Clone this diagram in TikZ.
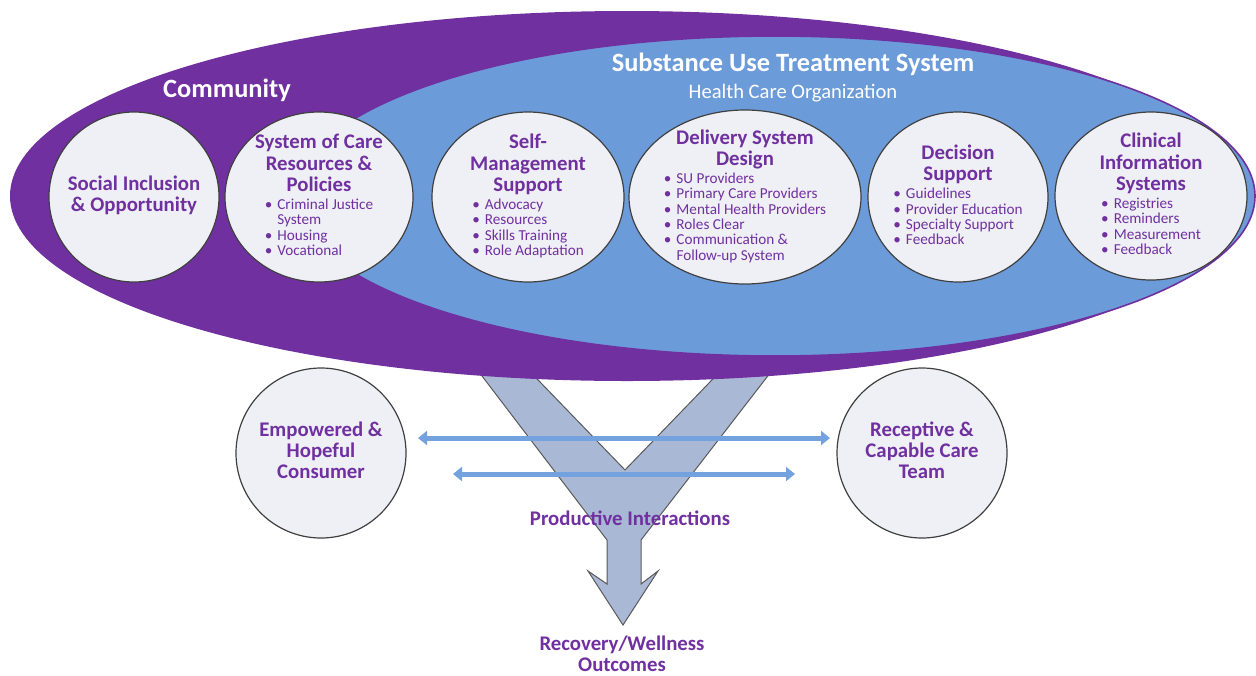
\documentclass[tikz,border=0pt]{standalone}
\usepackage{fontspec}
\setmainfont{Carlito}
\usetikzlibrary{shapes.geometric,arrows.meta}
\definecolor{cmpurple}{HTML}{7030A0}
\definecolor{cmblue}{HTML}{6C9BD9}
\definecolor{partfill}{HTML}{EEF0F5}
\definecolor{yfill}{HTML}{A9B9D5}
\definecolor{linkblue}{HTML}{74A2DE}
\newcommand{\ttl}[1]{{\fontsize{10.4}{10.6}\selectfont\bfseries\begin{tabular}[b]{@{}c@{}}#1\end{tabular}}}
\newcommand{\lst}[1]{{\fontsize{7.6}{7.7}\selectfont\begin{tabular}[t]{@{}l@{\hspace{2.5pt}}l@{}}#1\end{tabular}}}
\newcommand{\itm}{\textbullet &}
\tikzset{%
  part/.style = {shape=ellipse, draw=black!75, line width=0.6pt,
    fill=partfill, inner sep=0pt},
  parttext/.style = {text=cmpurple, align=center, inner sep=0pt,
    font=\fontsize{7.6}{9}\selectfont},
  banner/.style = {text=white, inner sep=0pt,
    font=\fontsize{13.2}{15}\selectfont\bfseries},
  link/.style = {draw=linkblue, line width=2.5pt,
    {Triangle[length=4.5pt,width=7pt]}-{Triangle[length=4.5pt,width=7pt]}}
}

\begin{document}
\begin{tikzpicture}[x=0.5pt, y=-0.5pt]
\useasboundingbox (0,0) rectangle (1256,675);

% productive interactions arrow
\draw[draw=black!65, line width=0.5pt, fill=yfill]
  (466,355) -- (607,540) -- (607,584) -- (588,571) -- (623,625)
  -- (658,571) -- (641,584) -- (641,540) -- (784,355) -- (736,355)
  -- (625,470) -- (514,355) -- cycle;

% community and treatment system
\fill[cmpurple] (627,196) ellipse [x radius=617, y radius=185];
\filldraw[fill=cmblue, draw=cmpurple, line width=0.8pt]
  (775,196) ellipse [x radius=480, y radius=160];

\node[banner] (community) at (227,90) {Community};
\node[banner] (sut) at (793,64) {Substance Use Treatment System};
\node[text=white, inner sep=0pt, font=\fontsize{10.3}{12}\selectfont]
  (hco) at (793,93) {Health Care Organization};

\node[part, minimum width=85pt, minimum height=85pt] (social) at (134,197) {};
\node[part, minimum width=94pt, minimum height=85pt] (soc) at (319,197) {};
\node[part, minimum width=96pt, minimum height=85pt] (self) at (528,197) {};
\node[part, minimum width=116pt, minimum height=87pt] (dsd) at (745,197) {};
\node[part, minimum width=90pt, minimum height=85pt] (dec) at (958,197) {};
\node[part, minimum width=96pt, minimum height=84pt] (cis) at (1151,196) {};

\node[parttext] (social-t) at (social) {\ttl{Social Inclusion\\\& Opportunity}};
\node[parttext] (soc-t) at (soc) {\ttl{System of Care\\Resources \&\\Policies}\\
  \lst{\itm Criminal Justice\\ & System\\ \itm Housing\\ \itm Vocational}};
\node[parttext] (self-t) at (self) {\ttl{Self-\\Management\\Support}\\
  \lst{\itm Advocacy\\ \itm Resources\\ \itm Skills Training\\ \itm Role Adaptation}};
\node[parttext] (dsd-t) at (dsd) {\ttl{Delivery System\\Design}\\
  \lst{\itm SU Providers\\ \itm Primary Care Providers\\ \itm Mental Health Providers\\
  \itm Roles Clear\\ \itm Communication \&\\ & Follow-up System}};
\node[parttext] (dec-t) at (dec) {\ttl{Decision\\Support}\\
  \lst{\itm Guidelines\\ \itm Provider Education\\ \itm Specialty Support\\ \itm Feedback}};
\node[parttext] (cis-t) at (cis) {\ttl{Clinical\\Information\\Systems}\\
  \lst{\itm Registries\\ \itm Reminders\\ \itm Measurement\\ \itm Feedback}};

% consumer and care team
\node[part, minimum width=85pt, minimum height=85pt] (emp) at (321,453) {};
\node[part, minimum width=85pt, minimum height=85pt] (team) at (922,453) {};
\node[parttext] (emp-t) at (emp) {\ttl{Empowered \&\\Hopeful\\Consumer}};
\node[parttext] (team-t) at (team) {\ttl{Receptive \&\\Capable Care\\Team}};

\coordinate (l1a) at (418,438);
\coordinate (l1b) at (830,438);
\coordinate (l2a) at (453,474);
\coordinate (l2b) at (795,474);
\draw[link] (l1a) -- (l1b);
\draw[link] (l2a) -- (l2b);

\node[parttext] (pi) at (630,521) {\ttl{Productive Interactions}};
\node[parttext] (out) at (622,657) {\ttl{Recovery/Wellness\\Outcomes}};
\end{tikzpicture}
\end{document}
